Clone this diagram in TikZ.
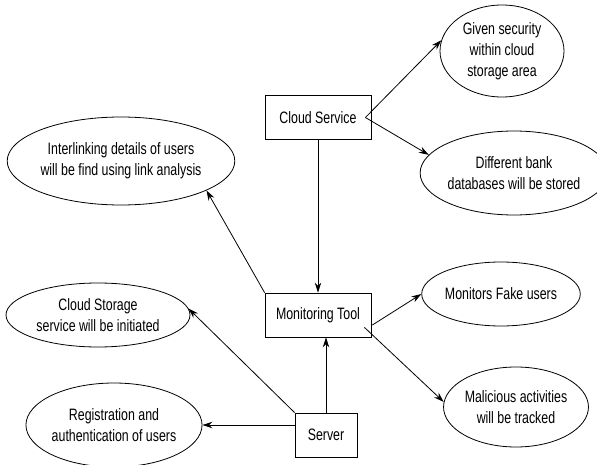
\documentclass[tikz,border=0pt]{standalone}
\usepackage{fontspec}
\setmainfont{Liberation Sans}[FakeStretch=0.75]
\usetikzlibrary{shapes.geometric,arrows.meta,calc}
\begin{document}
\begin{tikzpicture}[x=1pt,y=-1pt,
  font=\fontsize{16.5}{21}\selectfont,
  box/.style={draw,rectangle,line width=0.8pt,inner sep=0pt,minimum height=44pt},
  oval/.style={draw,ellipse,line width=0.8pt,inner sep=0pt,align=center},
  link/.style={line width=0.8pt,-{Stealth[length=10pt,width=6.5pt]}}]
\useasboundingbox (0,0) rectangle (597,465);

% process boxes
\node[box,minimum width=106pt] (cs)  at (318,117.5) {Cloud Service};
\node[box,minimum width=106pt] (mt)  at (318,315)   {Monitoring Tool};
\node[box,minimum width=62pt]  (srv) at (326,435)   {Server};

% outcome ellipses
\node[oval,minimum width=124pt,minimum height=92pt] (e1) at (502,51)
  {Given security\\within cloud\\storage area};
\node[oval,minimum width=164pt,minimum height=84pt] (e2) at (514,173)
  {Different bank\\databases will be stored};
\node[oval,minimum width=198pt,minimum height=88pt] (e3) at (121,161)
  {Interlinking details of users\\will be find using link analysis};
\node[oval,minimum width=184pt,minimum height=64pt] (e4) at (98,315)
  {Cloud Storage\\service will be initiated};
\node[oval,minimum width=137pt,minimum height=84pt] (e5) at (114,425)
  {Registration and\\authentication of users};
\node[oval,minimum width=138pt,minimum height=64pt] (e6) at (501,294)
  {Monitors Fake users};
\node[oval,minimum width=138pt,minimum height=80pt] (e7) at (516,407)
  {Malicious activities\\will be tracked};

% connectors
\coordinate (csout) at ($(cs.east)+(-6,0)$);
\draw[link] (csout) -- (e1.170);
\draw[link] (csout) -- (e2.168);
\draw[link] (cs.south) -- (mt.north);
\draw[link] (mt.north west) -- (e3.-19);
\draw[link] ($(mt.east)+(1,10)$) -- (e6.west);
\draw[link] ($(mt.south east)+(-7,-10)$) -- (e7.176);
\draw[link] (srv.north) -- (srv.north |- mt.south);
\draw[link] (srv.north west) -- (e4.4);
\draw[link] (srv.west |- e5.east) -- (e5.east);
\end{tikzpicture}
\end{document}
